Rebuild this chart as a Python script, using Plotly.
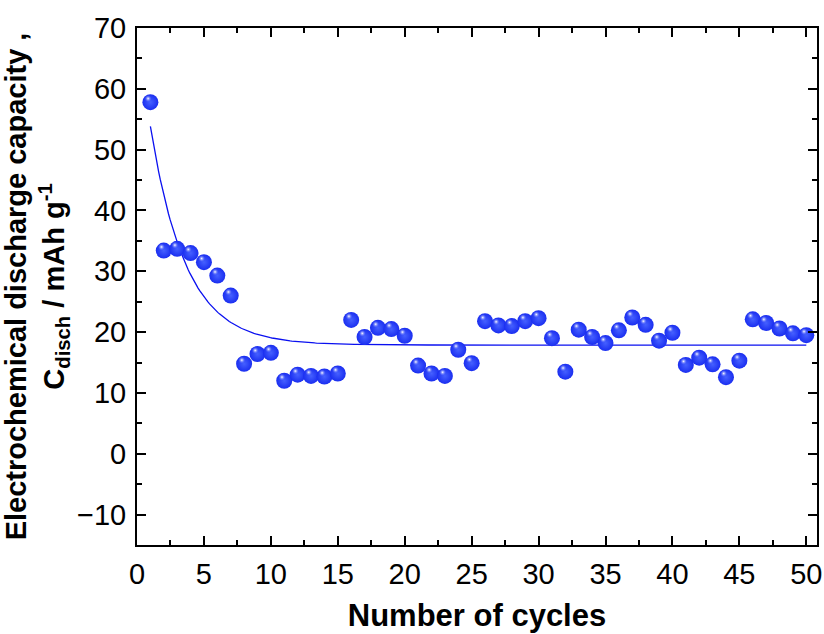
import numpy as np
import plotly.graph_objects as go

cycles = list(range(1, 51))
capacity = [57.8, 33.4, 33.7, 33.0, 31.5, 29.3, 26.0, 14.8, 16.4, 16.6,
            12.0, 13.0, 12.8, 12.7, 13.2, 22.0, 19.2, 20.7, 20.5, 19.4,
            14.5, 13.2, 12.8, 17.1, 14.9, 21.8, 21.1, 21.0, 21.8, 22.3,
            19.0, 13.5, 20.4, 19.2, 18.2, 20.3, 22.4, 21.2, 18.6, 19.9,
            14.6, 15.8, 14.7, 12.6, 15.3, 22.1, 21.5, 20.6, 19.8, 19.5]

x_ticks = [0, 5, 10, 15, 20, 25, 30, 35, 40, 45, 50]
y_ticks = [-10, 0, 10, 20, 30, 40, 50, 60, 70]

# exponential decay fit y = y0 + A*exp(-x/t) from the data (grid search on t)
xd = np.array(cycles, dtype=float)
yd = np.array(capacity, dtype=float)
best = None
for t in np.linspace(0.5, 10, 951):
    M = np.column_stack([np.ones_like(xd), np.exp(-xd / t)])
    coef, res, *_ = np.linalg.lstsq(M, yd, rcond=None)
    r = np.sum((M @ coef - yd) ** 2)
    if best is None or r < best[0]:
        best = (r, t, coef)
_, tf, (y0f, Af) = best
xf = np.linspace(1, 50, 400)
yf = y0f + Af * np.exp(-xf / tf)

FONT = "Liberation Sans, Arial, sans-serif"
fig = go.Figure()
fig.add_trace(go.Scatter(x=xf, y=yf, mode="lines",
                         line=dict(color="#0a10f0", width=1.3),
                         hoverinfo="skip", showlegend=False))
fig.add_trace(go.Scatter(x=cycles, y=capacity, mode="markers",
                         marker=dict(size=16, color="#1a2ef0",
                                     gradient=dict(type="radial", color="#4560ff"),
                                     line=dict(width=0)),
                         showlegend=False))
# specular highlight
fig.add_trace(go.Scatter(x=[c - 0.17 for c in cycles], y=[v + 0.6 for v in capacity],
                         mode="markers",
                         marker=dict(size=7, color="rgba(90,110,255,0)",
                                     gradient=dict(type="radial", color="#ffffff"),
                                     line=dict(width=0)),
                         hoverinfo="skip", showlegend=False))

axis_common = dict(showline=True, linecolor="black", linewidth=2, mirror="allticks",
                   ticks="inside", tickwidth=2, tickcolor="black", showgrid=False,
                   zeroline=False, tickfont=dict(family=FONT, size=29, color="black"))

fig.update_xaxes(range=[0, 50.8], tickvals=x_ticks, ticklen=9,
                 minor=dict(ticks="inside", ticklen=5, tickwidth=2, dtick=2.5, tick0=0, tickcolor="black"),
                 ticklabelstandoff=2,
                 title=dict(text="Number of cycles", font=dict(family=FONT, size=31, color="black", weight="bold"),
                            standoff=16),
                 **axis_common)
fig.update_yaxes(range=[-15, 70], tickvals=y_ticks, ticklen=9,
                 minor=dict(ticks="inside", ticklen=5, tickwidth=2, dtick=5, tick0=0, tickcolor="black"),
                 ticklabelstandoff=3,
                 title=dict(text="Electrochemical discharge capacity ,<br>C<sub>disch</sub> / mAh g<sup>-1</sup>",
                            font=dict(family=FONT, size=29, color="black", weight="bold"),
                            standoff=5),
                 **axis_common)

fig.update_layout(width=824, height=634, margin=dict(l=137, r=7, t=28, b=89, autoexpand=False),
                  plot_bgcolor="white", paper_bgcolor="white",
                  font=dict(family=FONT, color="black"))
fig.write_html("out.html")
